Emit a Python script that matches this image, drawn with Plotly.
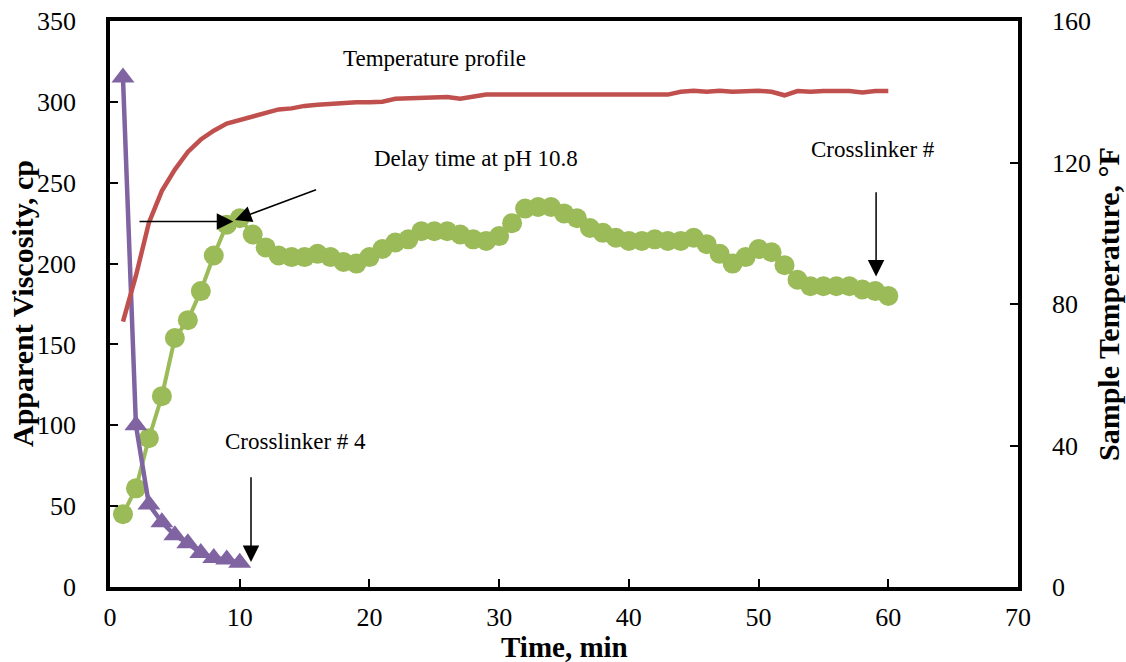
import plotly.graph_objects as go

time_min = list(range(1, 61))
viscosity_cp = [45, 61, 92, 118, 154, 165, 183, 205, 224, 228,
                218, 210, 205, 204, 204, 206, 204, 201, 200, 204,
                209, 213, 215, 220, 220, 220, 218, 215, 214, 217,
                225, 234, 235, 235, 231, 228, 222, 219, 216, 214,
                214, 215, 214, 214, 216, 212, 206, 200, 204, 209,
                207, 199, 190, 186, 186, 186, 186, 184, 183, 180]
crosslinker_time = list(range(1, 11))
crosslinker_visc = [315, 100, 51, 40, 32, 27, 21, 18, 17, 15]
temperature_f = [75, 88, 103, 112, 118, 123, 126.5, 129, 131, 132,
                 133, 134, 135, 135.3, 136, 136.3, 136.5, 137, 137, 137,
                 137.2, 138, 138.2, 138.2, 138.3, 138.5, 138, 138.7, 139.2, 139.2,
                 139.2, 139.2, 139.2, 139.2, 139.2, 139.2, 139.2, 139.2, 139.2, 139.2,
                 139.2, 139.2, 139.2, 140, 140.3, 140, 140.3, 140, 140.3, 140.3,
                 140, 139, 140.2, 140, 140.2, 140.2, 140.2, 139.8, 140.2, 140.2]

x_ticks = [0, 10, 20, 30, 40, 50, 60, 70]
y_ticks = [0, 50, 100, 150, 200, 250, 300, 350]
y2_ticks = [0, 40, 80, 120, 160]

FONT = "Liberation Serif, Times New Roman, Times, serif"
GREEN = "#9BBB59"
PURPLE = "#8064A2"
RED = "#C0504D"

fig = go.Figure()
fig.add_trace(go.Scatter(x=time_min, y=viscosity_cp, mode="lines+markers",
                         line=dict(color=GREEN, width=4),
                         marker=dict(symbol="circle", size=20, color=GREEN),
                         name="Delay time at pH 10.8", showlegend=False))
fig.add_trace(go.Scatter(x=crosslinker_time, y=crosslinker_visc, mode="lines+markers",
                         line=dict(color=PURPLE, width=4.5),
                         marker=dict(symbol="triangle-up", size=20, color=PURPLE),
                         name="Crosslinker # 4", showlegend=False))
fig.add_trace(go.Scatter(x=time_min, y=temperature_f, mode="lines", yaxis="y2",
                         line=dict(color=RED, width=4.5),
                         name="Temperature profile", showlegend=False))

ann_font = dict(family=FONT, size=23, color="black")
title_font = dict(family=FONT, size=29, color="black")
ytitle_font = dict(family=FONT, size=30, color="black")
arrow_style = dict(text="", showarrow=True, arrowhead=2, arrowsize=2.2, arrowwidth=1.5,
                   arrowcolor="black", standoff=0, xref="x", yref="y", axref="x", ayref="y")
annotations = [
    dict(text="Temperature profile", x=25, y=327, xref="x", yref="y",
         showarrow=False, font=ann_font),
    dict(text="Delay time at pH 10.8", x=28.2, y=265, xref="x", yref="y",
         showarrow=False, font=ann_font),
    dict(text="Crosslinker #", x=58.8, y=270.5, xref="x", yref="y",
         showarrow=False, font=ann_font),
    dict(text="Crosslinker # 4", x=14.3, y=90, xref="x", yref="y",
         showarrow=False, font=ann_font),
    dict(x=9.5, y=226, ax=2.16, ay=226, **arrow_style),
    dict(x=9.64, y=227, ax=16.0, ay=246, **arrow_style),
    dict(x=10.87, y=15.5, ax=10.87, ay=68.8, **arrow_style),
    dict(x=59.06, y=192, ax=59.06, ay=245, **arrow_style),
    # axis titles (placed in pixels relative to the plot edges)
    dict(text="<b>Apparent Viscosity, cp</b>", x=0, y=0.5, xref="paper", yref="paper",
         xanchor="center", yanchor="middle", textangle=-90, showarrow=False,
         font=ytitle_font, xshift=22 - 110),
    dict(text="<b>Sample Temperature, °F</b>", x=1, y=0.5, xref="paper", yref="paper",
         xanchor="center", yanchor="middle", textangle=-90, showarrow=False,
         font=ytitle_font, xshift=1108 - 1018),
    dict(text="<b>Time, min</b>", x=0.5, y=0, xref="paper", yref="paper",
         xanchor="center", yanchor="middle", showarrow=False,
         font=title_font, yshift=587 - 647),
]

tick_font = dict(family=FONT, size=26, color="black")

fig.update_layout(
    width=1126, height=662,
    margin=dict(l=110, r=108, t=21, b=75, autoexpand=False),
    paper_bgcolor="white", plot_bgcolor="white",
    font=dict(family=FONT, color="black"),
    showlegend=False,
    annotations=annotations,
    xaxis=dict(range=[0, 70], tickvals=x_ticks, ticks="inside", ticklen=8,
               tickwidth=1.5, tickcolor="black", showline=True, linecolor="black",
               linewidth=3.5, mirror=True, showgrid=False, zeroline=False,
               tickfont=tick_font, ticklabelstandoff=4, automargin=False),
    yaxis=dict(range=[0, 350], tickvals=y_ticks, ticks="inside", ticklen=8,
               tickwidth=1.5, tickcolor="black", showline=True, linecolor="black",
               linewidth=3.5, showgrid=False, zeroline=False, automargin=False,
               tickfont=tick_font, ticklabelstandoff=25),
    yaxis2=dict(range=[0, 160], tickvals=y2_ticks, ticks="inside", ticklen=8,
                tickwidth=1.5, tickcolor="black", showline=True, linecolor="black",
                linewidth=3.5, showgrid=False, zeroline=False, overlaying="y",
                automargin=False,
                side="right", tickfont=tick_font, ticklabelstandoff=25),
)

fig.write_html("out.html")
